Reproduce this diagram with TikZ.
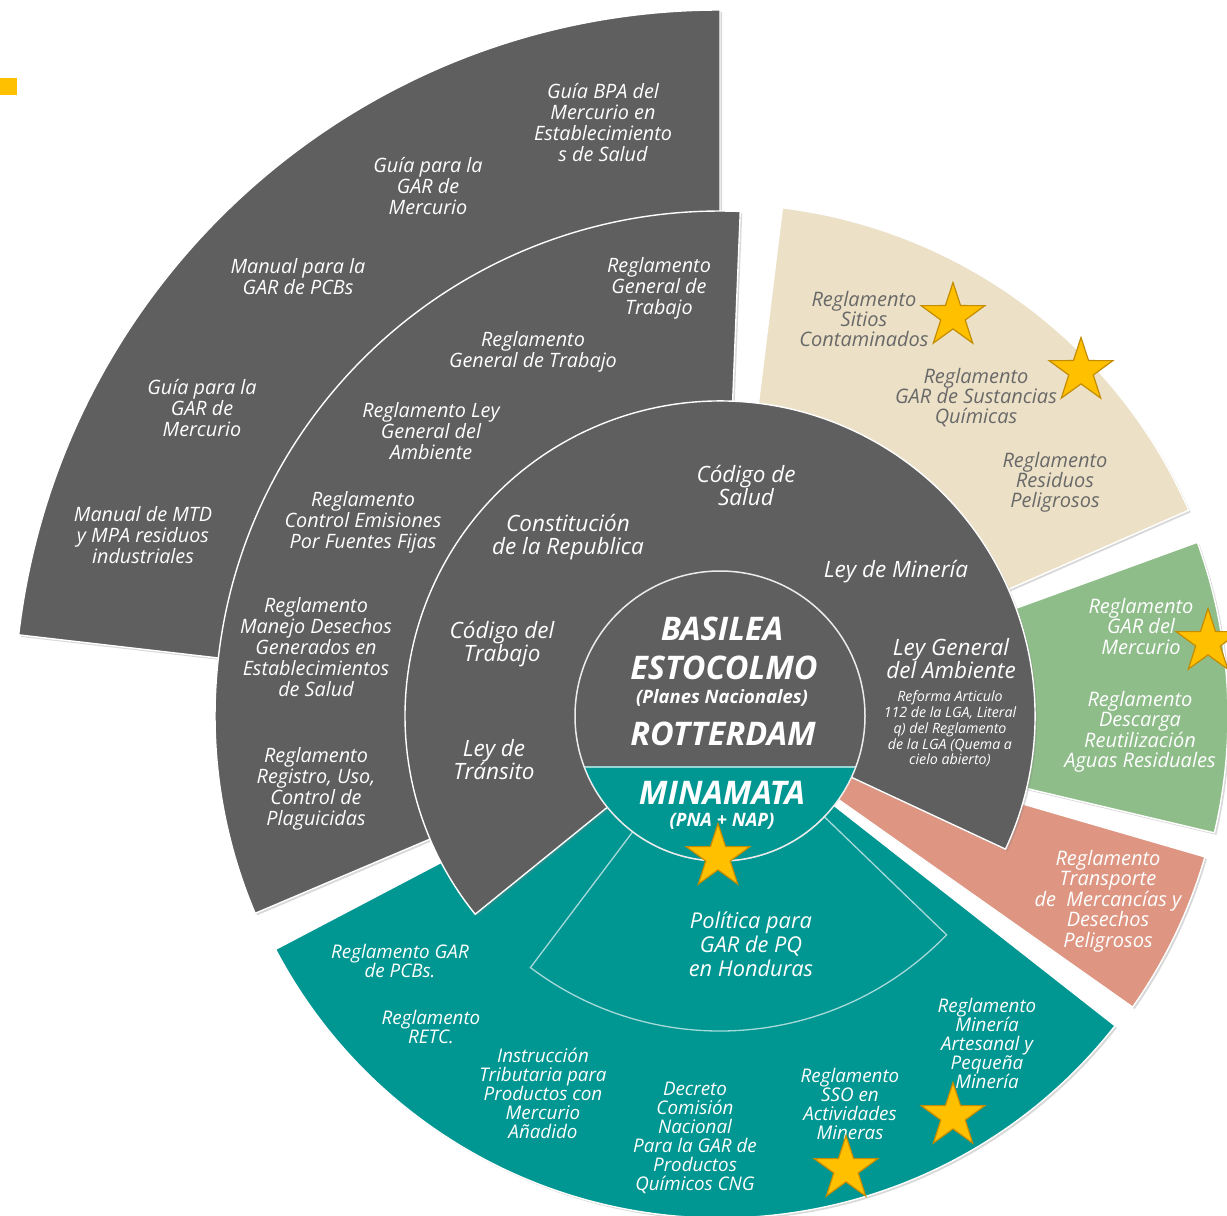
\documentclass[tikz,border=0pt]{standalone}
\usepackage{fontspec}
\setmainfont{Open Sans}
\usetikzlibrary{shapes.geometric,shadows}
\definecolor{gr}{RGB}{95,95,95}
\definecolor{tl}{RGB}{0,150,146}
\definecolor{bg}{RGB}{236,225,198}
\definecolor{gn}{RGB}{143,189,138}
\definecolor{sm}{RGB}{222,150,130}
\definecolor{gold}{RGB}{255,192,0}
\definecolor{golddk}{RGB}{196,140,0}
\definecolor{btxt}{RGB}{105,105,105}
\newcommand\sectr[5]{\path[#1] (#2:#5) arc[start angle=#2,end angle=#3,radius=#5] -- (#3:#4) arc[start angle=#3,end angle=#2,radius=#4] -- cycle;}
\tikzset{
 secbox/.style={draw=white, line width=1.4pt, drop shadow={shadow xshift=2pt,shadow yshift=-2pt,opacity=.3}},
 lblA/.style={text=white, font=\itshape\fontsize{19.8}{21}\selectfont, align=center, inner sep=0pt},
 lblB/.style={lblA, font=\itshape\fontsize{22.5}{23}\selectfont},
 lblP/.style={lblA, font=\itshape\fontsize{21.8}{24}\selectfont},
 lblS/.style={lblA, font=\itshape\fontsize{14.2}{15.8}\selectfont},
 lblT/.style={lblA, font=\itshape\fontsize{18.8}{19}\selectfont},
 lblD/.style={lblA, text=btxt, font=\itshape\fontsize{20}{20}\selectfont},
 lblE/.style={lblA, font=\itshape\fontsize{20}{20.5}\selectfont},
 lblBig/.style={lblA, font=\bfseries\itshape\fontsize{32.5}{33}\selectfont},
 lblMid/.style={lblA, font=\bfseries\itshape\fontsize{18.5}{19}\selectfont},
 starry/.style={star, star points=5, star point ratio=2.6, minimum size=67pt, inner sep=0pt, fill=gold, draw=golddk, line width=1.2pt},
}
\begin{document}
\begin{tikzpicture}[x=1pt,y=1pt]
\useasboundingbox (0,0) rectangle (1227,-1216);
\clip (0,0) rectangle (1227,-1216);
\fill[white] (0,0) rectangle (1227,-1216);
\node[fill=gold, minimum size=17pt, inner sep=0pt, anchor=north west] (sq) at (0,-78) {};
\begin{scope}[shift={(720,-716)}]
 \sectr{fill=tl, secbox}{207.7}{321.9}{100pt}{502pt}
 \sectr{fill=sm, secbox}{-35.2}{-16.2}{100pt}{505pt}
 \sectr{fill=gn, secbox}{-13.3}{20}{200pt}{508pt}
 \sectr{fill=bg, secbox}{23.7}{83}{200pt}{512pt}
 \sectr{fill=gr, secbox}{90}{173.4}{300pt}{706pt}
 \sectr{fill=gr, secbox}{87.7}{203}{200pt}{505pt}
 \sectr{fill=gr, secbox}{-25}{219}{100pt}{315pt}
 \sectr{draw=white!65!tl, line width=1.3pt}{233}{316}{145pt}{315pt}
 \fill[gr] (0,0) circle[radius=145pt];
 \begin{scope}
  \clip (0,0) circle[radius=145pt];
  \fill[tl] (-150,-51) rectangle (150,-150);
  \draw[white!60!tl, line width=1.5pt] (-150,-51) -- (150,-51);
 \end{scope}
 \draw[white!85!gray, line width=1.5pt] (0,0) circle[radius=145pt];
\end{scope}
% ring 4
\node[lblA] (g1) at (603,-123) {Guía BPA del\\Mercurio en\\Establecimiento\\s de Salud};
\node[lblA] (g2) at (428,-186) {Guía para la\\GAR de\\Mercurio};
\node[lblA] (g3) at (298,-277) {Manual para la\\GAR de PCBs};
\node[lblA] (g4) at (202,-408) {Guía para la\\GAR de\\Mercurio};
\node[lblA] (g5) at (143,-535) {Manual de MTD\\y MPA residuos\\industriales};
% ring 3
\node[lblA] (r1) at (659,-288) {Reglamento\\General de\\Trabajo};
\node[lblA] (r2) at (533,-352) {Reglamento\\General de Trabajo};
\node[lblA] (r3) at (431,-431) {Reglamento Ley\\General del\\Ambiente};
\node[lblA] (r4) at (363,-522) {Reglamento\\Control Emisiones\\Por Fuentes Fijas};
\node[lblA] (r5) at (316,-647) {Reglamento\\Manejo Desechos\\Generados en\\Establecimientos\\de Salud};
\node[lblA] (r6) at (316,-789) {Reglamento\\Registro, Uso,\\Control de\\Plaguicidas};
% ring 2
\node[lblB] (c1) at (746,-485) {Código de\\Salud};
\node[lblB] (c2) at (568,-537) {Constitución\\de la Republica};
\node[lblB] (c3) at (896,-572) {Ley de Minería};
\node[lblB] (c4) at (502,-644) {Código del\\Trabajo};
\node[lblB] (c5) at (951,-659) {Ley General\\del Ambiente};
\node[lblS] (c6) at (950,-729) {Reforma Articulo\\112 de la LGA, Literal\\q) del Reglamento\\de la LGA (Quema a\\cielo abierto)};
\node[lblB] (c7) at (494,-760) {Ley de\\Tránsito};
% inner circle
\node[lblBig] (m1) at (722,-629) {BASILEA};
\node[lblBig] (m2) at (724,-668) {ESTOCOLMO};
\node[lblMid] (m3) at (722,-698) {(Planes Nacionales)};
\node[lblBig] (m4) at (723,-734) {ROTTERDAM};
\node[lblBig] (m5) at (722,-793) {MINAMATA};
\node[lblMid] (m6) at (722,-821) {(PNA + NAP)};
% politica
\node[lblP] (p1) at (751,-944) {Política para\\GAR de PQ\\en Honduras};
% teal outer
\node[lblT] (t1) at (400,-961) {Reglamento GAR\\de PCBs.};
\node[lblT] (t2) at (431,-1027) {Reglamento\\RETC.};
\node[lblT] (t3) at (543,-1093) {Instrucción\\Tributaria para\\Productos con\\Mercurio\\Añadido};
\node[lblT] (t4) at (695,-1138) {Decreto\\Comisión\\Nacional\\Para la GAR de\\Productos\\Químicos CNG};
\node[lblT] (t5) at (850,-1104) {Reglamento\\SSO en\\Actividades\\Mineras};
\node[lblT] (t6) at (987,-1043) {Reglamento\\Minería\\Artesanal y\\Pequeña\\Minería};
% beige
\node[lblD] (b1) at (864,-319) {Reglamento\\Sitios\\Contaminados};
\node[lblD] (b2) at (976,-398) {Reglamento\\GAR de Sustancias\\Químicas};
\node[lblD] (b3) at (1055,-482) {Reglamento\\Residuos\\Peligrosos};
% green
\node[lblE] (e1) at (1141,-626) {Reglamento\\GAR del\\Mercurio};
\node[lblE] (e2) at (1140,-732) {Reglamento\\Descarga\\Reutilización\\Aguas Residuales};
% salmon
\node[lblE] (f1) at (1108,-901) {Reglamento\\Transporte\\de~~Mercancías y\\Desechos\\Peligrosos};
% stars
\node[starry] (s1) at (953,-316) {};
\node[starry] (s2) at (1081,-371) {};
\node[starry] (s3) at (1208,-642) {};
\node[starry] (s4) at (718,-857) {};
\node[starry] (s5) at (953,-1116) {};
\node[starry] (s6) at (846,-1169) {};
\end{tikzpicture}
\end{document}
